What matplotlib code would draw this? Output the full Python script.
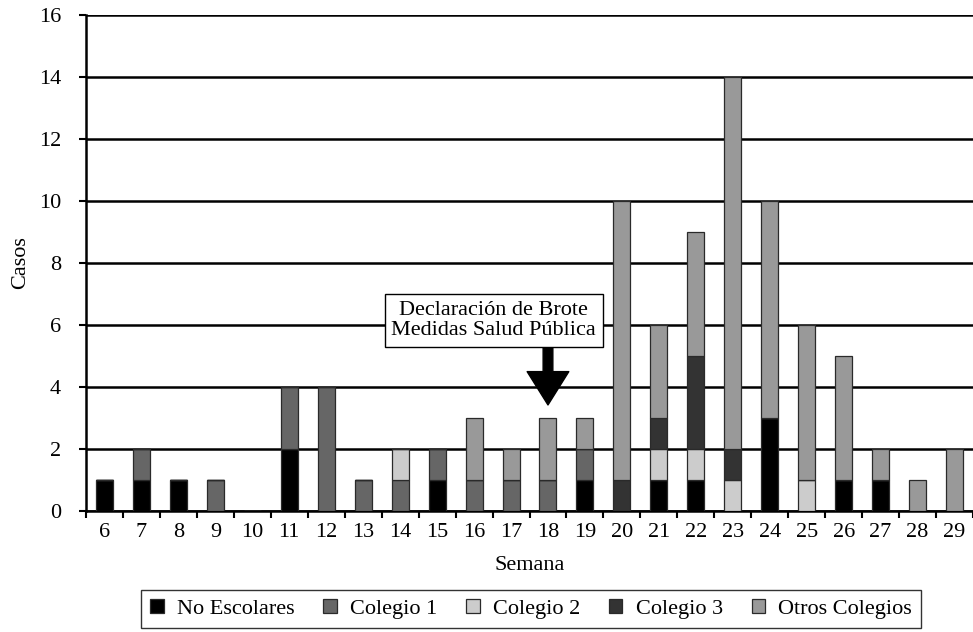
import matplotlib.pyplot as plt
import numpy as np

semanas = [str(s) for s in range(6, 30)]

# casos por semana y grupo
no_escolares = [1, 1, 1, 0, 0, 2, 0, 0, 0, 1, 0, 0, 0, 1, 0, 1, 1, 0, 3, 0, 1, 1, 0, 0]
colegio_1 =    [0, 1, 0, 1, 0, 2, 4, 1, 1, 1, 1, 1, 1, 1, 0, 0, 0, 0, 0, 0, 0, 0, 0, 0]
colegio_2 =    [0, 0, 0, 0, 0, 0, 0, 0, 1, 0, 0, 0, 0, 0, 0, 1, 1, 1, 0, 1, 0, 0, 0, 0]
colegio_3 =    [0, 0, 0, 0, 0, 0, 0, 0, 0, 0, 0, 0, 0, 0, 1, 1, 3, 1, 0, 0, 0, 0, 0, 0]
otros =        [0, 0, 0, 0, 0, 0, 0, 0, 0, 0, 2, 1, 2, 1, 9, 3, 4, 12, 7, 5, 4, 1, 1, 2]

series = [
    ("No Escolares", no_escolares, "#000000"),
    ("Colegio 1", colegio_1, "#666666"),
    ("Colegio 2", colegio_2, "#cccccc"),
    ("Colegio 3", colegio_3, "#333333"),
    ("Otros Colegios", otros, "#999999"),
]

plt.rcParams['font.family'] = ['Liberation Serif', 'DejaVu Serif']
FS = 16

fig = plt.figure(figsize=(9.73, 6.32), dpi=100)
ax = fig.add_axes([0.0884, 0.1915, 0.9116, 0.7848])

x = np.arange(len(semanas))
base = np.zeros(len(semanas))
for nombre, valores, color in series:
    valores = np.array(valores, dtype=float)
    ax.bar(x, valores, width=0.46, bottom=base, color=color, edgecolor="#2a2a2a",
           linewidth=0.9, label=nombre, zorder=3)
    base += valores

ax.set_xlim(-0.5, len(semanas) - 0.5)
ax.set_ylim(0, 16)
ax.set_yticks(range(0, 17, 2))
ax.yaxis.grid(True, color="black", linewidth=1.8, zorder=0)
ax.set_axisbelow(True)

ax.set_xticks(x)
ax.set_xticklabels(semanas)
ax.set_xticks(np.arange(-0.5, len(semanas)), minor=True)
ax.tick_params(axis="x", which="major", length=0, labelsize=FS, pad=9)
ax.tick_params(axis="x", which="minor", length=5, width=1.5, direction="out")
ax.tick_params(axis="y", length=5, width=1.5, direction="out", labelsize=FS, pad=13)

for lado in ["top", "right"]:
    ax.spines[lado].set_visible(False)
ax.spines["left"].set_linewidth(1.8)
ax.spines["bottom"].set_linewidth(1.8)

ax.set_xlabel("Semana", fontsize=FS, labelpad=10)
ax.set_ylabel("Casos", fontsize=FS, labelpad=6)

# recuadro de la declaración de brote
ax.text(10.53, 6.15, "Declaración de Brote\nMedidas Salud Pública", ha="center", va="center",
        fontsize=FS, linespacing=1.1, zorder=5,
        bbox=dict(boxstyle="square,pad=0.3", facecolor="white", edgecolor="black", linewidth=1))
ax.annotate("", xy=(12, 3.42), xytext=(12, 5.26),
            arrowprops=dict(facecolor="black", edgecolor="black", width=7, headwidth=30,
                            headlength=24, shrink=0),
            zorder=5)

fig.legend(loc="center", bbox_to_anchor=(0.546, 0.036), ncol=5, fontsize=FS, frameon=True,
           fancybox=False, edgecolor="black", handlelength=0.6, handleheight=0.6,
           columnspacing=1.3, handletextpad=0.6, borderpad=0.4)
fig.legends[0].get_frame().set_linewidth(1)

fig.savefig("out.png", dpi=100)
